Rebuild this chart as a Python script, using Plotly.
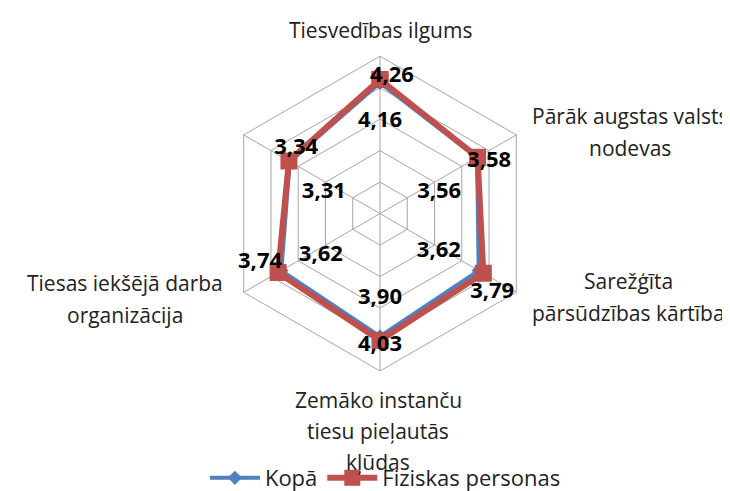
import plotly.graph_objects as go

# ---- data ----
categories = [
    "Tiesvedības ilgums",
    "Pārāk augstas valsts nodevas",
    "Sarežģīta pārsūdzības kārtība",
    "Zemāko instanču tiesu pieļautās kļūdas",
    "Tiesas iekšējā darba organizācija",
    " ",
]
series_names = ["Kopā", "Fiziskas personas"]
kopa = [4.16, 3.56, 3.62, 3.90, 3.62, 3.31]
fiziskas = [4.26, 3.58, 3.79, 4.03, 3.74, 3.34]

# ---- style / layout (positions kept separate from data) ----
BLUE = "#4F81BD"
RED = "#C0504D"
GRID = "#A6A6A6"
FONT = "Open Sans"
TXT = "#222222"

W, H = 730, 491
CX, CY, R = 372, 209, 160  # polar centre / radius in px
dom_x = [(CX - R) / W, (CX + R) / W]
dom_y = [(H - CY - R) / H, (H - CY + R) / H]

# data-label offsets (radial units, degrees)
kopa_dr = [-1.25, -1.56, -1.39, -1.21, -1.31, -1.40]
kopa_dt = [0, 10, 3, 0, -5.6, -9]
fiz_dr = [0.10, 0.26, 0.56, 0.16, 0.37, 0.04]
fiz_dt = [5, 4.5, 5, 0, 8, 8]

# category label lines and their centre positions (px)
cat_label_lines = [
    ["Tiesvedības ilgums"],
    ["Pārāk augstas valsts", "nodevas"],
    ["Sarežģīta", "pārsūdzības kārtība"],
    ["Zemāko instanču", "tiesu pieļautās", "kļūdas"],
    ["Tiesas iekšējā darba", "organizācija"],
    [],
]
cat_label_x = [372, 622, 620, 370, 117, 0]
cat_label_y0 = [22, 110, 278, 398, 280, 0]
LINE_STEP = 32

fmt = lambda v: f"{v:.2f}".replace(".", ",")

fig = go.Figure()

def closed(lst):
    return list(lst) + [lst[0]]

fig.add_trace(go.Scatterpolar(
    r=closed(kopa), theta=closed(categories), name=series_names[0],
    mode="lines+markers",
    line=dict(color=BLUE, width=4),
    marker=dict(symbol="diamond", size=11, color=BLUE),
    subplot="polar",
))
fig.add_trace(go.Scatterpolar(
    r=closed(fiziskas), theta=closed(categories), name=series_names[1],
    mode="lines+markers",
    line=dict(color=RED, width=6),
    marker=dict(symbol="square", size=17, color=RED),
    subplot="polar",
))

angles = [i * 360 / len(categories) for i in range(len(categories))]

for vals, dr, dt in ((kopa, kopa_dr, kopa_dt), (fiziskas, fiz_dr, fiz_dt)):
    fig.add_trace(go.Scatterpolar(
        r=[v + d for v, d in zip(vals, dr)],
        theta=[a + d for a, d in zip(angles, dt)],
        text=[fmt(v) for v in vals], mode="text",
        textfont=dict(family=FONT, size=22, color="black", weight="bold"),
        showlegend=False, subplot="polar2", cliponaxis=False, hoverinfo="skip",
    ))

for lines, px, py in zip(cat_label_lines, cat_label_x, cat_label_y0):
    for k, line in enumerate(lines):
        fig.add_annotation(
            x=px / W, y=1 - (py + k * LINE_STEP) / H, xref="paper", yref="paper",
            text=line, showarrow=False, xanchor="center", yanchor="middle",
            font=dict(family=FONT, size=21, color=TXT),
        )

fig.update_layout(
    width=W, height=H,
    margin=dict(l=0, r=0, t=0, b=0),
    paper_bgcolor="white", plot_bgcolor="white",
    font=dict(family=FONT, size=21, color=TXT),
    polar=dict(
        domain=dict(x=dom_x, y=dom_y),
        bgcolor="white",
        gridshape="linear",
        radialaxis=dict(range=[0, 5], dtick=1, showticklabels=False, ticks="",
                        showline=False, gridcolor=GRID, gridwidth=1),
        angularaxis=dict(direction="clockwise", rotation=90, showticklabels=False,
                         ticks="", gridcolor=GRID, linecolor=GRID, linewidth=1),
    ),
    polar2=dict(
        domain=dict(x=dom_x, y=dom_y),
        bgcolor="rgba(0,0,0,0)",
        radialaxis=dict(range=[0, 5], visible=False),
        angularaxis=dict(direction="clockwise", rotation=90, visible=False,
                         thetaunit="degrees"),
    ),
    legend=dict(orientation="h", x=0.517, xanchor="center", y=0.0265, yanchor="middle",
                font=dict(family=FONT, size=22, color=TXT),
                bgcolor="rgba(0,0,0,0)", itemwidth=50, tracegroupgap=0),
    showlegend=True,
)

fig.write_html("out.html")
